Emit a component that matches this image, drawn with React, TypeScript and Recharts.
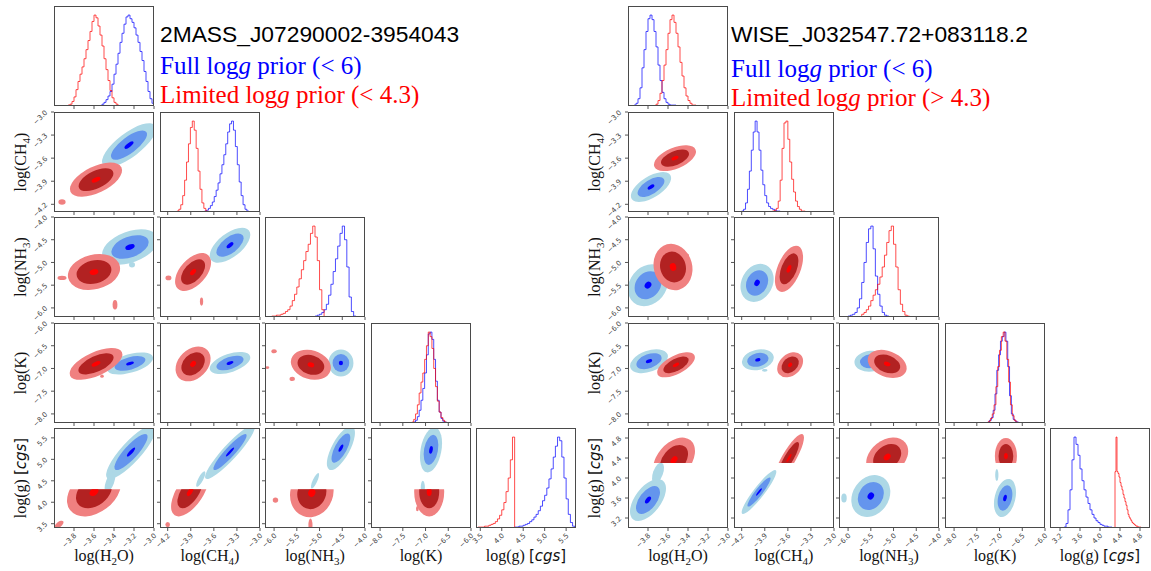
import React from "react";
import { ComposedChart, Line, Scatter, XAxis, YAxis } from "recharts";

// axis ranges + ticks (same for both corner plots except log g)
const DOM_H2O = [-4.0, -3.0];
const DOM_CH4 = [-4.3, -3.0];
const DOM_NH3 = [-6.2, -4.0];
const DOM_K = [-8.2, -6.0];
const DOM_LOGG_L = [3.4, 5.73];
const DOM_LOGG_R = [3.0, 5.0];

const TICKS_H2O = [-3.8, -3.6, -3.4, -3.2, -3.0];
const TICKS_CH4 = [-4.2, -3.9, -3.6, -3.3, -3.0];
const TICKS_NH3 = [-6.0, -5.5, -5.0, -4.5, -4.0];
const TICKS_K = [-8.0, -7.5, -7.0, -6.5, -6.0];
const TICKS_LOGG_L = [3.5, 4.0, 4.5, 5.0, 5.5];
const TICKS_LOGG_R = [3.2, 3.6, 4.0, 4.4, 4.8];

const DOMS = { L: [DOM_H2O, DOM_CH4, DOM_NH3, DOM_K, DOM_LOGG_L], R: [DOM_H2O, DOM_CH4, DOM_NH3, DOM_K, DOM_LOGG_R] };
const TICKS = { L: [TICKS_H2O, TICKS_CH4, TICKS_NH3, TICKS_K, TICKS_LOGG_L], R: [TICKS_H2O, TICKS_CH4, TICKS_NH3, TICKS_K, TICKS_LOGG_R] };

// 1D marginals, normalised counts (bin start, bin width, counts)
const L_H2O_RED = [0.01, 0.02, 0.05, 0.1, 0.18, 0.27, 0.35, 0.43, 0.52, 0.62, 0.72, 0.82, 0.93, 1.0, 0.97, 0.88, 0.78, 0.66, 0.52, 0.4, 0.28, 0.17, 0.09, 0.04, 0.02];
const L_H2O_BLUE = [0.02, 0.04, 0.07, 0.11, 0.16, 0.24, 0.35, 0.46, 0.58, 0.7, 0.8, 0.9, 0.98, 1.0, 0.96, 0.92, 0.86, 0.78, 0.7, 0.6, 0.5, 0.38, 0.27, 0.16, 0.08, 0.03];
const L_CH4_RED = [0.01, 0.03, 0.08, 0.18, 0.35, 0.55, 0.75, 0.93, 1.0, 0.9, 0.7, 0.45, 0.25, 0.1, 0.04, 0.01];
const L_CH4_BLUE = [0.01, 0.02, 0.04, 0.07, 0.11, 0.17, 0.24, 0.32, 0.42, 0.52, 0.63, 0.75, 0.88, 0.97, 1.0, 0.9, 0.72, 0.52, 0.33, 0.18, 0.08, 0.03, 0.01];
const L_NH3_RED = [0.01, 0.01, 0.02, 0.02, 0.03, 0.04, 0.06, 0.08, 0.12, 0.18, 0.25, 0.33, 0.42, 0.52, 0.62, 0.72, 0.8, 0.92, 1.0, 0.88, 0.62, 0.3, 0.08];
const L_NH3_BLUE = [0.01, 0.02, 0.03, 0.05, 0.08, 0.14, 0.24, 0.36, 0.5, 0.64, 0.78, 0.92, 1.0, 0.85, 0.55, 0.22, 0.06, 0.01];
const L_K_RED = [0.01, 0.04, 0.1, 0.2, 0.33, 0.45, 0.55, 0.7, 0.85, 1.0, 0.95, 0.82, 0.6, 0.4, 0.24, 0.12, 0.06, 0.03, 0.01, 0.0];
const L_K_BLUE = [0.0, 0.01, 0.03, 0.07, 0.14, 0.25, 0.38, 0.55, 0.75, 0.98, 1.0, 0.92, 0.7, 0.46, 0.25, 0.12, 0.05, 0.02, 0.01, 0.0];
const L_LOGG_RED = [0.01, 0.01, 0.01, 0.02, 0.02, 0.03, 0.04, 0.05, 0.07, 0.1, 0.14, 0.2, 0.28, 0.4, 0.55, 0.75, 1.0];
const L_LOGG_BLUE = [0.01, 0.01, 0.02, 0.02, 0.03, 0.04, 0.05, 0.07, 0.09, 0.12, 0.15, 0.19, 0.24, 0.3, 0.36, 0.44, 0.54, 0.65, 0.78, 0.9, 1.0, 0.96, 0.78, 0.55, 0.32, 0.15, 0.06, 0.02];

const R_H2O_RED = [0.02, 0.06, 0.14, 0.28, 0.45, 0.62, 0.8, 0.95, 1.0, 0.92, 0.8, 0.65, 0.48, 0.33, 0.2, 0.11, 0.06, 0.03, 0.01, 0.01];
const R_H2O_BLUE = [0.01, 0.03, 0.08, 0.2, 0.42, 0.62, 0.82, 0.96, 1.0, 0.95, 0.82, 0.65, 0.45, 0.28, 0.15, 0.08, 0.04, 0.02, 0.01, 0.01, 0.01];
const R_CH4_RED = [0.01, 0.02, 0.04, 0.12, 0.35, 0.7, 0.98, 1.0, 0.8, 0.55, 0.36, 0.22, 0.12, 0.06, 0.03, 0.01, 0.01];
const R_CH4_BLUE = [0.01, 0.03, 0.1, 0.25, 0.45, 0.68, 0.88, 1.0, 0.88, 0.68, 0.46, 0.3, 0.18, 0.1, 0.06, 0.04, 0.03, 0.02, 0.01, 0.01];
const R_NH3_RED = [0.03, 0.05, 0.08, 0.12, 0.18, 0.24, 0.3, 0.36, 0.44, 0.55, 0.68, 0.82, 0.95, 1.0, 0.8, 0.55, 0.3, 0.14, 0.06, 0.02, 0.01];
const R_NH3_BLUE = [0.01, 0.02, 0.03, 0.05, 0.1, 0.2, 0.38, 0.6, 0.82, 0.97, 1.0, 0.75, 0.45, 0.25, 0.12, 0.05, 0.02, 0.01];
const R_K_RED = [0.0, 0.02, 0.05, 0.1, 0.2, 0.4, 0.62, 0.8, 0.95, 1.0, 0.9, 0.7, 0.45, 0.2, 0.08, 0.03, 0.01, 0.0];
const R_K_BLUE = [0.0, 0.01, 0.03, 0.06, 0.14, 0.32, 0.58, 0.75, 0.9, 0.95, 1.0, 0.9, 0.62, 0.3, 0.1, 0.04, 0.02, 0.01];
const R_LOGG_RED = [0.62, 1.0, 0.62, 0.6, 0.56, 0.5, 0.46, 0.42, 0.37, 0.33, 0.29, 0.25, 0.2, 0.15, 0.12, 0.1, 0.08, 0.06, 0.05, 0.04, 0.03, 0.02, 0.02, 0.01, 0.01, 0.01];
const R_LOGG_BLUE = [0.01, 0.05, 0.2, 0.42, 0.75, 1.0, 0.92, 0.8, 0.65, 0.52, 0.42, 0.34, 0.27, 0.2, 0.15, 0.11, 0.08, 0.06, 0.04, 0.03, 0.02, 0.02, 0.01, 0.01];

const HISTS = {
  L: [
    { red: { start: -3.86, width: 0.02, counts: L_H2O_RED }, blue: { start: -3.52, width: 0.02, counts: L_H2O_BLUE } },
    { red: { start: -4.08, width: 0.025, counts: L_CH4_RED }, blue: { start: -3.72, width: 0.025, counts: L_CH4_BLUE } },
    { red: { start: -6.05, width: 0.05, counts: L_NH3_RED }, blue: { start: -5.1, width: 0.05, counts: L_NH3_BLUE } },
    { red: { start: -7.3, width: 0.04, counts: L_K_RED }, blue: { start: -7.3, width: 0.04, counts: L_K_BLUE } },
    { red: { start: 3.45, width: 0.05, counts: L_LOGG_RED }, blue: { start: 4.3, width: 0.05, counts: L_LOGG_BLUE } },
  ],
  R: [
    { red: { start: -3.72, width: 0.02, counts: R_H2O_RED }, blue: { start: -3.94, width: 0.02, counts: R_H2O_BLUE } },
    { red: { start: -3.8, width: 0.025, counts: R_CH4_RED }, blue: { start: -4.2, width: 0.025, counts: R_CH4_BLUE } },
    { red: { start: -5.7, width: 0.05, counts: R_NH3_RED }, blue: { start: -6.0, width: 0.05, counts: R_NH3_BLUE } },
    { red: { start: -7.28, width: 0.04, counts: R_K_RED }, blue: { start: -7.3, width: 0.04, counts: R_K_BLUE } },
    { red: { start: 4.3, width: 0.02, counts: R_LOGG_RED }, blue: { start: 3.28, width: 0.04, counts: R_LOGG_BLUE } },
  ],
};

// 2D posteriors: centre, spread, correlation (row = y variable, col = x variable)
const L_BLUE = [
  { row: 1, col: 0, x: -3.25, y: -3.43, sx: 0.09, sy: 0.095, rho: 0.75 },
  { row: 2, col: 0, x: -3.24, y: -4.66, sx: 0.093, sy: 0.13, rho: 0.4 },
  { row: 3, col: 0, x: -3.24, y: -6.89, sx: 0.077, sy: 0.081, rho: 0.5 },
  { row: 4, col: 0, x: -3.23, y: 5.17, sx: 0.083, sy: 0.21, rho: 0.85 },
  { row: 2, col: 1, x: -3.39, y: -4.62, sx: 0.088, sy: 0.128, rho: 0.6 },
  { row: 3, col: 1, x: -3.39, y: -6.88, sx: 0.088, sy: 0.081, rho: 0.5 },
  { row: 4, col: 1, x: -3.39, y: 5.17, sx: 0.108, sy: 0.21, rho: 0.92 },
  { row: 3, col: 2, x: -4.53, y: -6.88, sx: 0.092, sy: 0.099, rho: 0.0 },
  { row: 4, col: 2, x: -4.53, y: 5.26, sx: 0.103, sy: 0.17, rho: 0.7 },
  { row: 4, col: 3, x: -6.88, y: 5.22, sx: 0.081, sy: 0.175, rho: 0.3 },
];
const L_RED = [
  { row: 1, col: 0, x: -3.58, y: -3.88, sx: 0.087, sy: 0.074, rho: 0.55 },
  { row: 2, col: 0, x: -3.6, y: -5.21, sx: 0.087, sy: 0.132, rho: 0.2 },
  { row: 3, col: 0, x: -3.58, y: -6.9, sx: 0.088, sy: 0.117, rho: 0.6 },
  { row: 4, col: 0, x: -3.6, y: 4.24, sx: 0.09, sy: 0.19, rho: 0.35, cutMax: 4.3 },
  { row: 2, col: 1, x: -3.87, y: -5.21, sx: 0.078, sy: 0.139, rho: 0.5 },
  { row: 3, col: 1, x: -3.87, y: -6.9, sx: 0.076, sy: 0.128, rho: 0.3 },
  { row: 4, col: 1, x: -3.91, y: 4.24, sx: 0.082, sy: 0.19, rho: 0.6, cutMax: 4.3 },
  { row: 3, col: 2, x: -5.19, y: -6.92, sx: 0.147, sy: 0.11, rho: -0.2 },
  { row: 4, col: 2, x: -5.17, y: 4.22, sx: 0.16, sy: 0.19, rho: 0.1, cutMax: 4.3 },
  { row: 4, col: 3, x: -6.92, y: 4.24, sx: 0.11, sy: 0.19, rho: 0.0, cutMax: 4.3 },
];
// small isolated patches (outer level only)
const L_BLUE_SPOTS = [
  { row: 2, col: 0, x: -3.22, y: -5.05, sx: 0.01, sy: 0.02, rho: 0 },
  { row: 4, col: 0, x: -3.44, y: 4.47, sx: 0.018, sy: 0.08, rho: 0.6 },
  { row: 4, col: 1, x: -3.77, y: 4.54, sx: 0.02, sy: 0.06, rho: 0.8 },
  { row: 4, col: 2, x: -5.1, y: 4.5, sx: 0.03, sy: 0.06, rho: 0.8 },
  { row: 4, col: 3, x: -7.06, y: 4.35, sx: 0.015, sy: 0.05, rho: 0 },
];
const L_RED_SPOTS = [
  { row: 1, col: 0, x: -3.92, y: -4.17, sx: 0.012, sy: 0.012, rho: 0 },
  { row: 2, col: 0, x: -3.92, y: -5.34, sx: 0.015, sy: 0.015, rho: 0 },
  { row: 2, col: 0, x: -3.39, y: -5.93, sx: 0.008, sy: 0.035, rho: 0 },
  { row: 2, col: 1, x: -4.19, y: -5.34, sx: 0.013, sy: 0.018, rho: 0 },
  { row: 2, col: 1, x: -3.76, y: -5.86, sx: 0.007, sy: 0.03, rho: 0 },
  { row: 3, col: 0, x: -3.52, y: -7.17, sx: 0.006, sy: 0.012, rho: 0 },
  { row: 3, col: 2, x: -6.0, y: -6.62, sx: 0.02, sy: 0.015, rho: 0 },
  { row: 3, col: 2, x: -5.6, y: -7.23, sx: 0.02, sy: 0.015, rho: 0 },
  { row: 3, col: 2, x: -6.15, y: -6.98, sx: 0.015, sy: 0.01, rho: 0 },
  { row: 4, col: 0, x: -3.95, y: 3.48, sx: 0.015, sy: 0.03, rho: 0.6 },
  { row: 4, col: 1, x: -4.2, y: 3.48, sx: 0.01, sy: 0.02, rho: 0 },
  { row: 4, col: 2, x: -5.97, y: 4.05, sx: 0.02, sy: 0.02, rho: 0 },
  { row: 4, col: 2, x: -5.2, y: 3.47, sx: 0.015, sy: 0.05, rho: 0 },
  { row: 4, col: 3, x: -7.18, y: 3.85, sx: 0.01, sy: 0.02, rho: 0 },
];

const R_BLUE = [
  { row: 1, col: 0, x: -3.77, y: -3.975, sx: 0.067, sy: 0.065, rho: 0.6 },
  { row: 2, col: 0, x: -3.8, y: -5.5, sx: 0.067, sy: 0.154, rho: 0.2 },
  { row: 3, col: 0, x: -3.79, y: -6.84, sx: 0.063, sy: 0.088, rho: 0.4 },
  { row: 4, col: 0, x: -3.8, y: 3.56, sx: 0.06, sy: 0.14, rho: 0.55 },
  { row: 2, col: 1, x: -4.0, y: -5.45, sx: 0.072, sy: 0.14, rho: 0.2 },
  { row: 3, col: 1, x: -3.99, y: -6.81, sx: 0.069, sy: 0.077, rho: 0.2 },
  { row: 4, col: 1, x: -3.975, y: 3.72, sx: 0.075, sy: 0.146, rho: 0.92 },
  { row: 3, col: 2, x: -5.5, y: -6.84, sx: 0.12, sy: 0.077, rho: 0.1 },
  { row: 4, col: 2, x: -5.5, y: 3.64, sx: 0.143, sy: 0.14, rho: 0.2 },
  { row: 4, col: 3, x: -6.88, y: 3.6, sx: 0.081, sy: 0.127, rho: 0.3 },
];
const R_RED = [
  { row: 1, col: 0, x: -3.53, y: -3.6, sx: 0.07, sy: 0.056, rho: 0.5 },
  { row: 2, col: 0, x: -3.55, y: -5.1, sx: 0.065, sy: 0.17, rho: -0.1 },
  { row: 3, col: 0, x: -3.52, y: -6.92, sx: 0.063, sy: 0.092, rho: 0.6 },
  { row: 4, col: 0, x: -3.54, y: 4.36, sx: 0.07, sy: 0.15, rho: 0.4, cutMin: 4.3 },
  { row: 2, col: 1, x: -3.585, y: -5.14, sx: 0.061, sy: 0.17, rho: 0.5 },
  { row: 3, col: 1, x: -3.57, y: -6.92, sx: 0.056, sy: 0.092, rho: 0.3 },
  { row: 4, col: 1, x: -3.585, y: 4.4, sx: 0.065, sy: 0.16, rho: 0.85, cutMin: 4.3 },
  { row: 3, col: 2, x: -5.14, y: -6.9, sx: 0.143, sy: 0.103, rho: -0.3 },
  { row: 4, col: 2, x: -5.14, y: 4.42, sx: 0.154, sy: 0.13, rho: 0.3, cutMin: 4.3 },
  { row: 4, col: 3, x: -6.86, y: 4.44, sx: 0.081, sy: 0.12, rho: 0.0, cutMin: 4.3 },
];
const R_BLUE_SPOTS = [
  { row: 3, col: 1, x: -3.9, y: -7.04, sx: 0.012, sy: 0.01, rho: 0 },
  { row: 4, col: 0, x: -3.7, y: 4.1, sx: 0.02, sy: 0.07, rho: 0.5 },
  { row: 4, col: 2, x: -6.09, y: 3.6, sx: 0.02, sy: 0.03, rho: 0 },
  { row: 4, col: 3, x: -7.06, y: 4.06, sx: 0.012, sy: 0.04, rho: 0 },
];
const R_RED_SPOTS = [
  { row: 2, col: 0, x: -3.42, y: -4.85, sx: 0.01, sy: 0.015, rho: 0 },
  { row: 4, col: 2, x: -4.88, y: 4.72, sx: 0.01, sy: 0.02, rho: 0 },
];

const BLOBS = {
  L: { blue: [...L_BLUE, ...L_BLUE_SPOTS.map((s) => ({ ...s, solo: true }))], red: [...L_RED, ...L_RED_SPOTS.map((s) => ({ ...s, solo: true }))] },
  R: { blue: [...R_BLUE, ...R_BLUE_SPOTS.map((s) => ({ ...s, solo: true }))], red: [...R_RED, ...R_RED_SPOTS.map((s) => ({ ...s, solo: true }))] },
};

const TITLES = { L: "2MASS_J07290002-3954043", R: "WISE_J032547.72+083118.2" };
const LIMITS = { L: "(< 4.3)", R: "(> 4.3)" };

// layout
const PANEL = 100;
const PITCH = 105.6;
const TOP0 = 6;
const LEFT0 = { L: 54, R: 628 };
const PAD_L = 34;
const PAD_B = 34;
const LEVELS = [3, 2, 0.5];
const BLUE_FILLS = ["#add8e6", "#6495ed", "#0000ff"];
const RED_FILLS = ["#f08080", "#b22222", "#ff0000"];
const SERIF = "'Liberation Serif', 'Times New Roman', serif";
const SANS = "'DejaVu Sans', sans-serif";

const fmt = (v: number) => (v < 0 ? "\u2212" : "") + Math.abs(v).toFixed(1);

function stepData(h: { start: number; width: number; counts: number[] }, dom: number[]) {
  const pts = [{ x: dom[0], y: 0 }];
  h.counts.forEach((c, i) => pts.push({ x: +(h.start + i * h.width).toFixed(4), y: c }));
  pts.push({ x: +(h.start + h.counts.length * h.width).toFixed(4), y: 0 });
  pts.push({ x: dom[1], y: 0 });
  return pts;
}

function XTick(props: any) {
  const { x, y, payload, show } = props;
  if (!show) return <g />;
  const ax = x + 3;
  const ay = y + 3;
  return (
    <text x={ax} y={ay} transform={`rotate(-45 ${ax} ${ay})`} textAnchor="end" fontSize={7} fill="#444" fontFamily={SANS}>
      {fmt(payload.value)}
    </text>
  );
}

function YTick(props: any) {
  const { x, y, payload, show } = props;
  if (!show) return <g />;
  const ax = x - 1;
  const ay = y + 1;
  return (
    <text x={ax} y={ay} transform={`rotate(-45 ${ax} ${ay})`} textAnchor="end" fontSize={7} fill="#444" fontFamily={SANS}>
      {fmt(payload.value)}
    </text>
  );
}

function blobShape(id: string, pxX: number, pxY: number, fills: string[]) {
  return (props: any) => {
    const { cx, cy, payload: p } = props;
    if (cx == null || cy == null) return <g />;
    const Sx = p.sx * pxX;
    const Sy = p.sy * pxY;
    const a = Sx * Sx;
    const c = Sy * Sy;
    const b = -p.rho * Sx * Sy;
    const m = (a + c) / 2;
    const d = Math.sqrt(((a - c) / 2) ** 2 + b * b);
    const r1 = Math.sqrt(m + d);
    const r2 = Math.sqrt(Math.max(m - d, 0.01));
    const theta = (0.5 * Math.atan2(2 * b, a - c) * 180) / Math.PI;
    let y0 = 0;
    let y1 = PANEL;
    if (p.cutMax !== undefined) y0 = Math.max(y0, cy - (p.cutMax - p.y) * pxY);
    if (p.cutMin !== undefined) y1 = Math.min(y1, cy - (p.cutMin - p.y) * pxY);
    const clipId = `${id}-${p.id}`;
    const levels = p.solo ? [LEVELS[0]] : LEVELS;
    return (
      <g>
        <defs>
          <clipPath id={clipId}>
            <rect x={PAD_L} y={y0} width={PANEL} height={Math.max(y1 - y0, 0)} />
          </clipPath>
        </defs>
        <g clipPath={`url(#${clipId})`}>
          {levels.map((k, i) => (
            <ellipse key={i} cx={cx} cy={cy} rx={k * r1} ry={k * r2} transform={`rotate(${theta} ${cx} ${cy})`} fill={fills[i]} />
          ))}
        </g>
      </g>
    );
  };
}

function Panel({ side, row, col }: { side: "L" | "R"; row: number; col: number }) {
  const doms = DOMS[side];
  const ticks = TICKS[side];
  const left = Math.round(LEFT0[side] + col * PITCH);
  const top = Math.round(TOP0 + row * PITCH);
  const xd = doms[col];
  const showX = row === 4;
  const showY = col === 0 && row > 0;
  const id = `p${side}${row}${col}`;
  const margin = { top: 0, right: 0, bottom: 0, left: 0 };
  const xAxis = (
    <XAxis
      type="number"
      dataKey="x"
      domain={xd}
      ticks={ticks[col]}
      allowDataOverflow
      interval={0}
      height={PAD_B}
      tickSize={3}
      tickLine={{ stroke: "#555" }}
      axisLine={false}
      tick={(p: any) => <XTick {...p} show={showX} />}
    />
  );
  let body;
  if (row === col) {
    const h = HISTS[side][col];
    body = (
      <ComposedChart width={PANEL + PAD_L} height={PANEL + PAD_B} margin={margin}>
        {xAxis}
        <YAxis type="number" domain={[0, 1.1]} width={PAD_L} tick={false} tickLine={false} axisLine={false} allowDataOverflow />
        <Line data={stepData(h.blue, xd)} dataKey="y" type="stepAfter" stroke="#0000ff" strokeOpacity={0.7} strokeWidth={1} dot={false} activeDot={false} isAnimationActive={false} />
        <Line data={stepData(h.red, xd)} dataKey="y" type="stepAfter" stroke="#ff0000" strokeOpacity={0.7} strokeWidth={1} dot={false} activeDot={false} isAnimationActive={false} />
      </ComposedChart>
    );
  } else {
    const yd = doms[row];
    const pxX = PANEL / (xd[1] - xd[0]);
    const pxY = PANEL / (yd[1] - yd[0]);
    const blue = BLOBS[side].blue.filter((b) => b.row === row && b.col === col).map((b, i) => ({ ...b, id: i }));
    const red = BLOBS[side].red.filter((b) => b.row === row && b.col === col).map((b, i) => ({ ...b, id: i }));
    body = (
      <ComposedChart width={PANEL + PAD_L} height={PANEL + PAD_B} margin={margin}>
        {xAxis}
        <YAxis
          type="number"
          dataKey="y"
          domain={yd}
          ticks={ticks[row]}
          allowDataOverflow
          interval={0}
          width={PAD_L}
          tickSize={3}
          tickLine={{ stroke: "#555" }}
          axisLine={false}
          tick={(p: any) => <YTick {...p} show={showY} />}
        />
        <Scatter data={blue} shape={blobShape(`${id}b`, pxX, pxY, BLUE_FILLS)} isAnimationActive={false} />
        <Scatter data={red} shape={blobShape(`${id}r`, pxX, pxY, RED_FILLS)} isAnimationActive={false} />
      </ComposedChart>
    );
  }
  return (
    <div style={{ position: "absolute", left: left - PAD_L, top }}>
      {body}
      <div
        style={{
          position: "absolute",
          left: PAD_L,
          top: 0,
          width: PANEL,
          height: PANEL,
          border: "1px solid #4a4a4a",
          boxSizing: "border-box",
          pointerEvents: "none",
        }}
      />
    </div>
  );
}

function AxisText({ i }: { i: number }) {
  if (i === 0)
    return (
      <>
        log(H<tspan fontSize={11} dy={4}>2</tspan>
        <tspan dy={-4}>O)</tspan>
      </>
    );
  if (i === 1)
    return (
      <>
        log(CH<tspan fontSize={11} dy={4}>4</tspan>
        <tspan dy={-4}>)</tspan>
      </>
    );
  if (i === 2)
    return (
      <>
        log(NH<tspan fontSize={11} dy={4}>3</tspan>
        <tspan dy={-4}>)</tspan>
      </>
    );
  if (i === 3) return <>log(K)</>;
  return (
    <>
      log(g){" "}
      <tspan fontFamily={SANS} fontSize={15}>
        [
      </tspan>
      <tspan fontFamily={SANS} fontSize={15} fontStyle="italic">
        cgs
      </tspan>
      <tspan fontFamily={SANS} fontSize={15}>
        ]
      </tspan>
    </>
  );
}

function Labels({ side }: { side: "L" | "R" }) {
  const x0 = LEFT0[side];
  const tx = side === "L" ? 160 : 731;
  const dy = side === "L" ? 0 : 3;
  const yLabelX = side === "L" ? 20 : 594;
  return (
    <g>
      <text x={tx} y={42} fontFamily="'Liberation Sans', Arial, sans-serif" fontSize={22.8} fill="#000">
        {TITLES[side]}
      </text>
      <text x={tx} y={74 + dy} fontFamily={SERIF} fontSize={25} fill="#0000ff">
        Full log<tspan fontStyle="italic">g</tspan> prior (&lt; 6)
      </text>
      <text x={tx} y={103 + dy} fontFamily={SERIF} fontSize={25} fill="#ff0000">
        Limited log<tspan fontStyle="italic">g</tspan> prior {LIMITS[side]}
      </text>
      {[0, 1, 2, 3, 4].map((i) => (
        <text key={`x${i}`} x={Math.round(x0 + i * PITCH) + PANEL / 2} y={561} textAnchor="middle" fontFamily={SERIF} fontSize={16} fill="#111">
          <AxisText i={i} />
        </text>
      ))}
      {[1, 2, 3, 4].map((i) => {
        const cy = Math.round(TOP0 + i * PITCH) + PANEL / 2;
        return (
          <text key={`y${i}`} x={yLabelX} y={cy} dy="0.35em" transform={`rotate(-90 ${yLabelX} ${cy})`} textAnchor="middle" fontFamily={SERIF} fontSize={16} fill="#111">
            <AxisText i={i} />
          </text>
        );
      })}
    </g>
  );
}

export default function App() {
  const panels: { side: "L" | "R"; row: number; col: number }[] = [];
  (["L", "R"] as const).forEach((side) => {
    for (let row = 0; row < 5; row++) for (let col = 0; col <= row; col++) panels.push({ side, row, col });
  });
  return (
    <div style={{ position: "absolute", left: 0, top: 0, width: 1151, height: 571, background: "#fff", overflow: "hidden" }}>
      <style>{`.recharts-surface{overflow:visible}`}</style>
      {panels.map((p) => (
        <Panel key={`${p.side}${p.row}${p.col}`} {...p} />
      ))}
      <svg width={1151} height={571} style={{ position: "absolute", left: 0, top: 0, pointerEvents: "none" }}>
        <Labels side="L" />
        <Labels side="R" />
      </svg>
    </div>
  );
}
